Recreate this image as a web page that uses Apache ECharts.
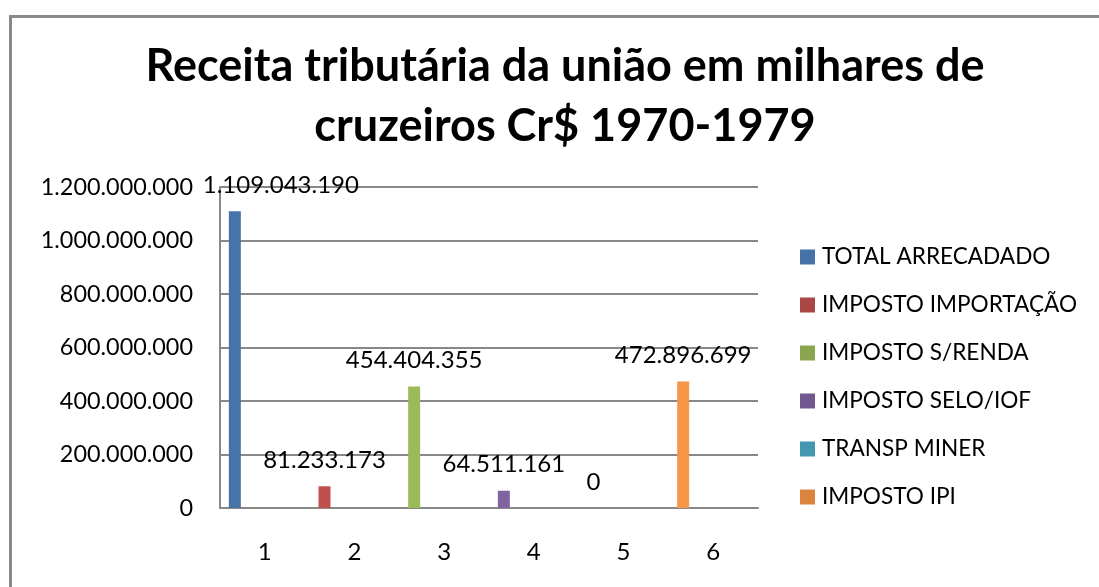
<!DOCTYPE html>
<html>
<head>
<meta charset="utf-8">
<script src="https://cdn.jsdelivr.net/npm/echarts@6/dist/echarts.min.js"></script>
<style>
  html, body { margin: 0; padding: 0; background: #fff; }
  #chart { width: 1099px; height: 587px; }
</style>
</head>
<body>
<div id="chart"></div>
<script>
// categories and series
const categories = ['1', '2', '3', '4', '5', '6']
const seriesNames = ['TOTAL ARRECADADO', 'IMPOSTO IMPORTAÇÃO', 'IMPOSTO S/RENDA', 'IMPOSTO SELO/IOF', 'TRANSP MINER', 'IMPOSTO IPI']
const totalArrecadado = [1109043190, null, null, null, null, null]
const impostoImportacao = [null, 81233173, null, null, null, null]
const impostoRenda = [null, null, 454404355, null, null, null]
const impostoSeloIof = [null, null, null, 64511161, null, null]
const transpMiner = [null, null, null, null, 0, null]
const impostoIpi = [null, null, null, null, null, 472896699]
const yTicks = [0, 200000000, 400000000, 600000000, 800000000, 1000000000, 1200000000]

const barColors = ['#4673A8', '#C0504D', '#9BBB59', '#8064A2', '#4BACC6', '#F79646']
const legendColors = ['#4572A7', '#AA4643', '#89A54E', '#71588F', '#4198AF', '#DB843D']
const font = 'Lato'

const fmt = (v) => String(v).replace(/\B(?=(\d{3})+(?!\d))/g, '.')

const chart = echarts.init(document.getElementById('chart'))

const values = [totalArrecadado, impostoImportacao, impostoRenda, impostoSeloIof, transpMiner, impostoIpi]

const series = values.map((data, i) => ({
    name: seriesNames[i],
    type: 'bar',
    stack: 'real',
    data: data,
    barWidth: 12,
    barGap: '0%',
    itemStyle: { color: barColors[i] },
    label: {
        show: true,
        position: 'top',
        distance: 14,
        offset: i === 0 ? [46, 0] : [0, 0],
        color: '#000',
        fontFamily: font,
        fontSize: 24,
        formatter: (p) => fmt(p.value)
    }
}))

// empty spacer so the real bars sit left of the category centre, as in the reference
series.push({
    name: 'spacer',
    type: 'bar',
    stack: 'spacer',
    data: categories.map(() => null),
    barWidth: 60,
    barGap: '0%',
    silent: true
})

const option = {
    animation: false,
    title: {
        text: 'Receita tributária da união em milhares de\ncruzeiros Cr$ 1970-1979',
        left: 560,
        top: 31,
        textAlign: 'center',
        textStyle: {
            fontFamily: font,
            fontWeight: 'bold',
            fontSize: 45,
            lineHeight: 60,
            color: '#000'
        }
    },
    graphic: [{
        type: 'rect',
        shape: { x: 10.5, y: 16.5, width: 1200, height: 700 },
        style: { fill: 'none', stroke: '#898989', lineWidth: 3 },
        silent: true
    }],
    legend: {
        orient: 'vertical',
        left: 795,
        top: 240,
        itemWidth: 15,
        itemHeight: 15,
        itemGap: 24,
        icon: 'rect',
        data: seriesNames.map((n, i) => ({ name: n, itemStyle: { color: legendColors[i] } })),
        textStyle: {
            fontFamily: font,
            fontSize: 22.6,
            lineHeight: 24,
            color: '#000',
            padding: [0, 0, 0, 2]
        }
    },
    grid: {
        left: 220,
        right: 341,
        top: 187,
        bottom: 79,
        containLabel: false
    },
    xAxis: {
        type: 'category',
        data: categories,
        axisTick: { show: false },
        axisLine: { lineStyle: { color: '#888', width: 2 } },
        axisLabel: {
            margin: 32,
            color: '#000',
            fontFamily: font,
            fontSize: 24
        }
    },
    yAxis: {
        type: 'value',
        min: yTicks[0],
        max: yTicks[yTicks.length - 1],
        interval: yTicks[1] - yTicks[0],
        axisLine: { show: true, lineStyle: { color: '#888', width: 2 } },
        axisTick: { show: false },
        splitLine: { lineStyle: { color: '#888', width: 2 } },
        axisLabel: {
            margin: 27,
            color: '#000',
            fontFamily: font,
            fontSize: 23.4,
            formatter: fmt
        }
    },
    series: series
}

chart.setOption(option)
</script>
</body>
</html>
